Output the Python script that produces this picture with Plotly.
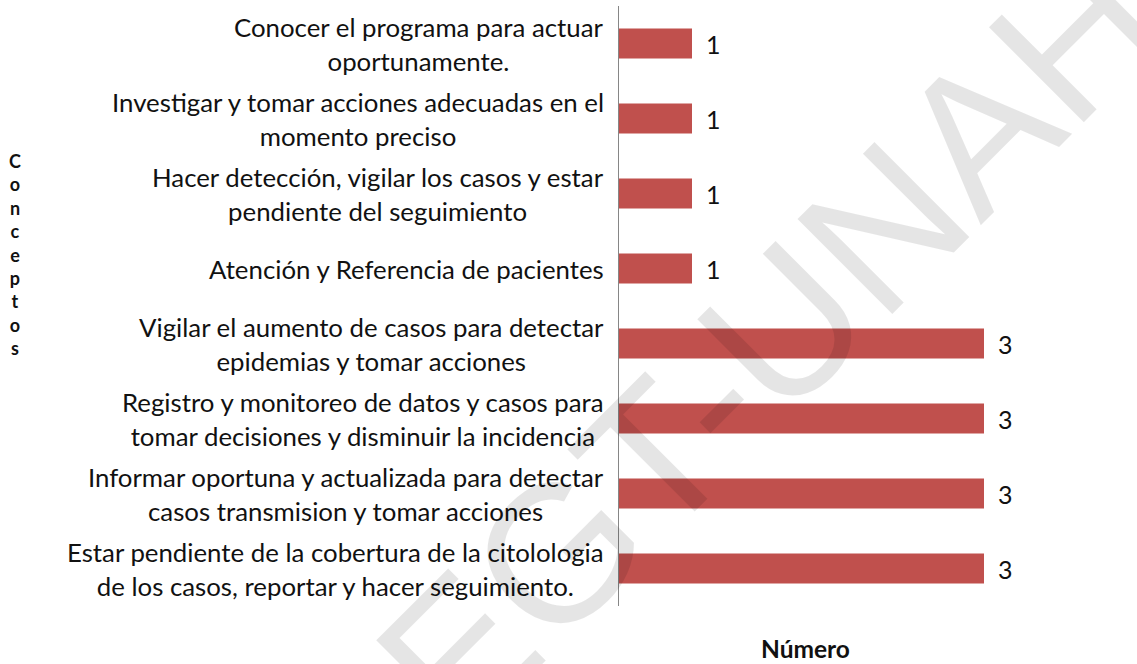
import plotly.graph_objects as go

categories = [
    "Conocer el programa para actuar<br>oportunamente.",
    "Investigar y tomar acciones adecuadas en el<br>momento preciso",
    "Hacer detección, vigilar los casos y estar<br>pendiente del seguimiento",
    "Atención y Referencia de pacientes",
    "Vigilar el aumento de casos para detectar<br>epidemias y tomar acciones",
    "Registro y monitoreo de datos y casos para<br>tomar decisiones y disminuir la incidencia",
    "Informar oportuna y actualizada para detectar<br>casos transmision y tomar acciones",
    "Estar pendiente de la cobertura de la citolologia<br>de los casos, reportar y hacer seguimiento.",
]
values = [1, 1, 1, 1, 3, 3, 3, 3]
x_axis_title = "Número"
y_axis_title = "Conceptos"
watermark = "SEGT-UNAH"

FONT = "Lato, 'Open Sans', sans-serif"
BAR_COLOR = "#C0504D"
TEXT_COLOR = "#111111"

fig = go.Figure()
fig.add_trace(go.Bar(
    y=categories,
    x=values,
    orientation="h",
    marker=dict(color=BAR_COLOR, line=dict(width=0)),
    width=0.4,
    hoverinfo="x+y",
))

annotations = []
# category labels (centered lines, right-aligned block)
for cat in categories:
    annotations.append(dict(
        x=0, xref="paper", y=cat, yref="y",
        text=cat, showarrow=False, xanchor="right", yanchor="middle",
        align="center", xshift=-13,
        font=dict(family=FONT, size=25.8, color=TEXT_COLOR),
    ))
# data labels
for cat, v in zip(categories, values):
    annotations.append(dict(
        x=v, xref="x", y=cat, yref="y",
        text=str(v), showarrow=False, xanchor="left", yanchor="middle",
        xshift=12,
        font=dict(family=FONT, size=25, color=TEXT_COLOR),
    ))
# vertical stacked y title
annotations.append(dict(
    x=0, xref="paper", y=(606 - 254) / 600, yref="paper",
    text="<b>" + "<br>".join(list(y_axis_title)) + "</b>", showarrow=False,
    xanchor="center", yanchor="middle", xshift=-604,
    font=dict(family=FONT, size=18, color=TEXT_COLOR),
))
# x title
annotations.append(dict(
    x=(805 - 619) / 438, xref="paper", y=(606 - 648) / 600, yref="paper",
    text="<b>" + x_axis_title + "</b>", showarrow=False,
    xanchor="center", yanchor="middle",
    font=dict(family=FONT, size=24.5, color=TEXT_COLOR),
))
# watermark
annotations.append(dict(
    x=(722 - 619) / 438, xref="paper", y=(606 - 388) / 600, yref="paper",
    text=watermark, showarrow=False, textangle=-45,
    xanchor="center", yanchor="middle",
    font=dict(family="Liberation Sans, Arial, sans-serif", size=195,
              color="rgba(0,0,0,0.1)"),
))

fig.update_layout(
    width=1137, height=664,
    margin=dict(l=619, r=80, t=6, b=58),
    paper_bgcolor="white", plot_bgcolor="white",
    showlegend=False,
    bargap=0.6,
    xaxis=dict(range=[0.5, 3.5], showgrid=False, showticklabels=False,
               zeroline=False, showline=False, ticks=""),
    yaxis=dict(autorange="reversed", showgrid=False, showticklabels=False,
               showline=True, linecolor="#868686", linewidth=1, ticks="",
               zeroline=False),
    annotations=annotations,
)

fig.write_html(
    "out.html",
    config={"displayModeBar": False},
    post_script="document.body.style.margin='0';document.body.style.overflow='hidden';",
)
